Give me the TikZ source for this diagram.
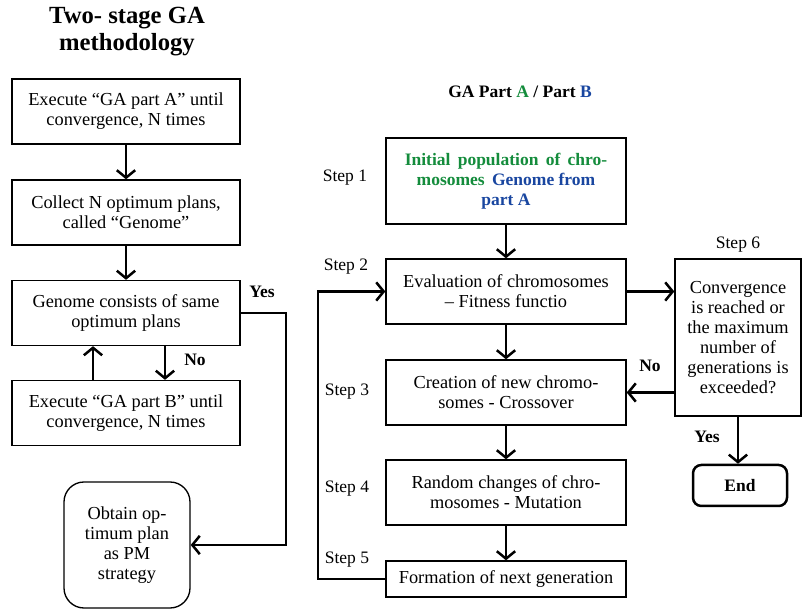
\documentclass[tikz,border=0pt]{standalone}
\usepackage{fontspec}
\setmainfont{Liberation Serif}
\usepackage{xcolor}
\usetikzlibrary{arrows.meta,positioning,calc}
\definecolor{partA}{RGB}{20,140,60}
\definecolor{partB}{RGB}{25,70,160}

\begin{document}
\begin{tikzpicture}[
    x=0.6pt, y=-0.6pt,
    font=\fontsize{11}{12}\selectfont,
    >={Straight Barb[length=4.5pt,width=11pt]},
    box/.style={draw, line width=0.8pt, align=center, inner sep=0pt},
    lbox/.style={box, minimum width=136.8pt, minimum height=39pt},
    rbox/.style={box, minimum width=144pt, minimum height=39pt},
    arr/.style={->, line width=1.5pt},
    lbl/.style={font=\fontsize{10.5}{12}\selectfont\bfseries}
]
    \useasboundingbox (0,0) rectangle (802,611);

    % Titles
    \node[align=center, font=\fontsize{14.8}{16.2}\selectfont\bfseries] (title) at (127,32) {Two- stage GA\\methodology};
    \node[lbl] (subtitle) at (520,92) {GA Part \textcolor{partA}{A} / Part \textcolor{partB}{B}};

    % Left column
    \node[lbox] (exA) at (126,111.5) {Execute “GA part A” until\\convergence, N times};
    \node[lbox] (collect) at (126,212.5) {Collect N optimum plans,\\called “Genome”};
    \node[lbox] (same) at (126,313) {Genome consists of same\\optimum plans};
    \node[lbox] (exB) at (126,413) {Execute “GA part B” until\\convergence, N times};
    \node[box, rounded corners=12pt, minimum width=75.6pt, minimum height=75.6pt] (obtain) at (127,545) {Obtain op-\\timum plan\\as PM\\strategy};

    % Right column
    \node[rbox, minimum height=51.6pt, font=\fontsize{10.5}{12}\selectfont\bfseries] (init) at (506,181)
        {\textcolor{partA}{Initial\, population\, of\, chro-}\\\textcolor{partA}{mosomes}\, \textcolor{partB}{Genome from}\\\textcolor{partB}{part A}};
    \node[rbox] (eval) at (506,291.5) {Evaluation of chromosomes\\– Fitness functio};
    \node[rbox] (cross) at (506,392.5) {Creation of new chromo-\\somes - Crossover};
    \node[rbox] (mut) at (506,492.5) {Random changes of chro-\\mosomes - Mutation};
    \node[rbox, minimum height=21.6pt] (nextgen) at (506,579) {Formation of next generation};
    \node[box, minimum width=75.6pt, minimum height=94.2pt] (conv) at (738,337.5) {Convergence\\is reached or\\the maximum\\number of\\generations is\\exceeded?};
    \node[box, line width=1.5pt, rounded corners=5pt, minimum width=56.4pt, minimum height=24.6pt, font=\fontsize{10.5}{12}\selectfont\bfseries] (end) at (740,485.5) {End};

    % Step labels
    \node[font=\fontsize{10.5}{12}\selectfont] (s1) at (345,178) {Step 1};
    \node[font=\fontsize{10.5}{12}\selectfont] (s2) at (346,267) {Step 2};
    \node[font=\fontsize{10.5}{12}\selectfont] (s3) at (347,392) {Step 3};
    \node[font=\fontsize{10.5}{12}\selectfont] (s4) at (347,489) {Step 4};
    \node[font=\fontsize{10.5}{12}\selectfont] (s5) at (347,560) {Step 5};
    \node[font=\fontsize{10.5}{12}\selectfont] (s6) at (738,245) {Step 6};

    % Left connectors
    \draw[arr] (exA) -- (collect);
    \draw[arr] (collect) -- (same);
    \draw[arr] ([xshift=23.4pt]same.south) -- ([xshift=23.4pt]exB.north);
    \draw[arr] ([xshift=-19.8pt]exB.north) -- ([xshift=-19.8pt]same.south);
    \coordinate (yesturn) at (286,313);
    \draw[arr] (same.east) -- (yesturn) |- (obtain.east);

    % Right connectors
    \draw[arr] (init) -- (eval);
    \draw[arr] (eval) -- (cross);
    \draw[arr] (cross) -- (mut);
    \draw[arr] (mut) -- (nextgen);
    \draw[arr] (eval.east) -- (eval.east -| conv.west);
    \draw[arr] (cross.east -| conv.west) -- (cross.east);
    \draw[arr] (conv.south) -- (conv.south |- end.north);
    \coordinate (loopturn) at (318,579);
    \draw[arr] (nextgen.west) -- (loopturn) |- (eval.west);

    % Yes / No
    \node[lbl] (yesL) at (262,292) {Yes};
    \node[lbl] (noL) at (195,360) {No};
    \node[lbl] (noR) at (650,366) {No};
    \node[lbl] (yesR) at (707,437) {Yes};
\end{tikzpicture}
\end{document}
